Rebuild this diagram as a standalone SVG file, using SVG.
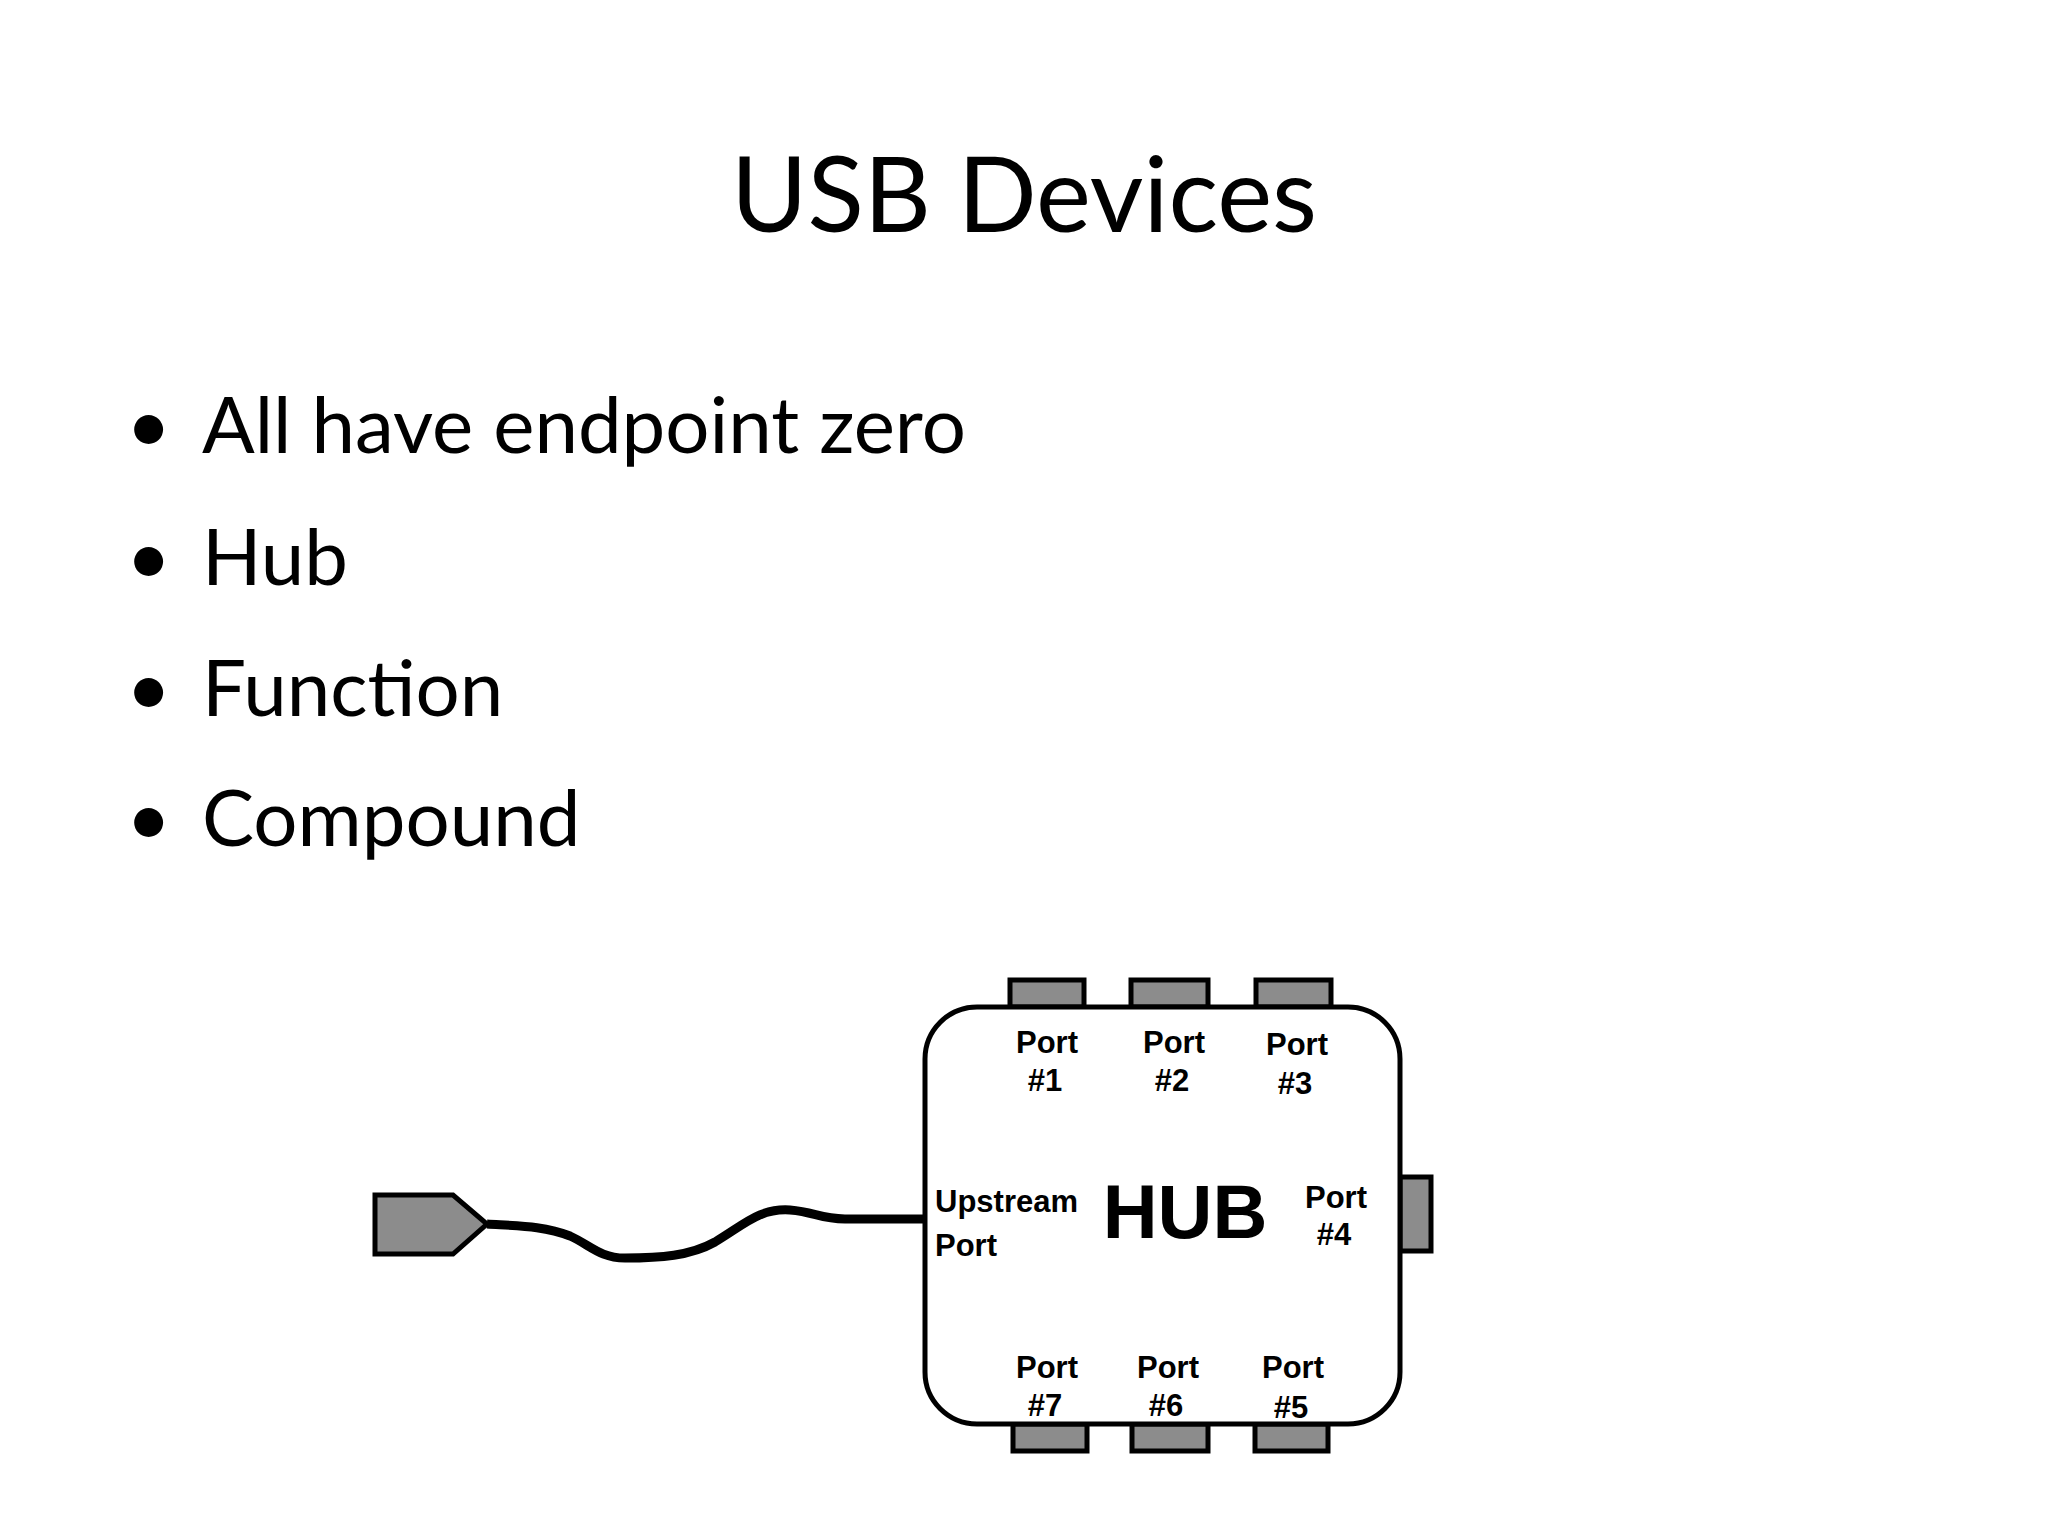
<svg xmlns="http://www.w3.org/2000/svg" width="2048" height="1536" viewBox="0 0 2048 1536">
<style>
.t{font-family:Lato,"Open Sans",sans-serif;fill:#000}
.p{font-family:"Liberation Sans",Arial,sans-serif;font-weight:bold;font-size:31px;fill:#000}
.port{fill:#8c8c8c;stroke:#000;stroke-width:5}
</style>
<rect width="2048" height="1536" fill="#fff"/>
<text class="t" x="1024" y="232" font-size="104" text-anchor="middle">USB Devices</text>
<g class="t" font-size="78">
<text x="126" y="453">•</text><text x="202" y="453">All have endpoint zero</text>
<text x="126" y="585">•</text><text x="202" y="585">Hub</text>
<text x="126" y="716">•</text><text x="202" y="716">Function</text>
<text x="126" y="846">•</text><text x="202" y="846">Compound</text>
</g>
<g id="ports">
<rect class="port" x="1010" y="980" width="74" height="27"/>
<rect class="port" x="1131" y="980" width="77" height="27"/>
<rect class="port" x="1256" y="980" width="75" height="27"/>
<rect class="port" x="1013" y="1424" width="74" height="27"/>
<rect class="port" x="1132" y="1424" width="76" height="27"/>
<rect class="port" x="1255" y="1424" width="73" height="27"/>
<rect class="port" x="1400" y="1177" width="31" height="74"/>
</g>
<g id="connectors">
<path d="M487,1224 C520,1226 545,1226 570,1236 C590,1245 600,1258 625,1258 C660,1258 690,1256 715,1242 C745,1224 760,1208 790,1210 C815,1212 820,1219 845,1219 L925,1219" fill="none" stroke="#000" stroke-width="9"/>
</g>
<g id="plug"><polygon class="port" points="375,1195 453,1195 487,1224 453,1254 375,1254"/></g>
<g id="hub">
<rect x="925" y="1007" width="475" height="417" rx="52" fill="#fff" stroke="#000" stroke-width="5"/>
<g class="p" text-anchor="middle">
<text x="1047" y="1053">Port</text><text x="1045" y="1091">#1</text>
<text x="1174" y="1053">Port</text><text x="1172" y="1091">#2</text>
<text x="1297" y="1055">Port</text><text x="1295" y="1094">#3</text>
<text x="1336" y="1208">Port</text><text x="1334" y="1245">#4</text>
<text x="1047" y="1378">Port</text><text x="1045" y="1416">#7</text>
<text x="1168" y="1378">Port</text><text x="1166" y="1416">#6</text>
<text x="1293" y="1378">Port</text><text x="1291" y="1418">#5</text>
</g>
<text class="p" x="935" y="1212">Upstream</text>
<text class="p" x="935" y="1256">Port</text>
<text x="1185" y="1238" font-family="'Liberation Sans',Arial,sans-serif" font-weight="bold" font-size="76" text-anchor="middle">HUB</text>
</g>
</svg>
